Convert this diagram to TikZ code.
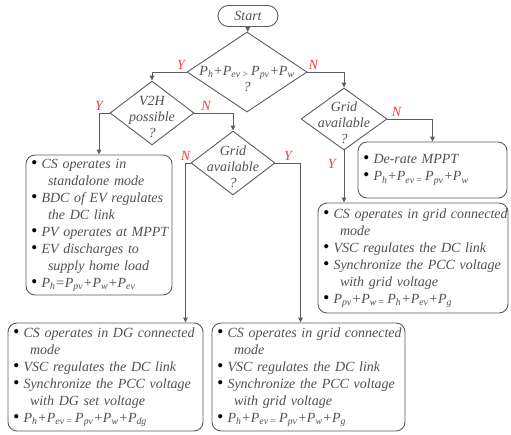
\documentclass[tikz,border=0pt]{standalone}
\usepackage{fontspec}
\setmainfont{Liberation Serif}
\usepackage{xcolor}
\usepackage{graphicx}
\usepackage{tikz}
\usetikzlibrary{arrows.meta,shapes.geometric,shapes.misc,calc}

\definecolor{ink}{HTML}{505050}
\definecolor{edge}{HTML}{5C5C5C}
\definecolor{ynred}{HTML}{FF3C3C}

\newcommand\Pw[1]{P\textsubscript{#1}}
\newcommand\itm[1]{\makebox[10.5pt][l]{\color{black}\scalebox{1.25}{\textbullet}}\mbox{#1}}
\newcommand\cnt[1]{\hspace*{17pt}\mbox{#1}}
\newcommand\dtxt[2][-8.5pt]{\smash{\makebox[0pt]{\raisebox{#1}{\begin{tabular}{@{}c@{}}#2\end{tabular}}}}}

\begin{document}
\begin{tikzpicture}[x=1pt,y=-1pt,font=\fontsize{14}{17}\selectfont\itshape,
  >={Triangle[length=5pt,width=4.5pt]},
  wire/.style={draw=edge,line width=0.9pt},
  term/.style={wire,rounded rectangle,minimum width=60pt,minimum height=21pt,inner sep=0pt,text=ink},
  dec/.style={wire,diamond,inner sep=0pt,text=ink,font=\fontsize{14}{16}\selectfont\itshape},
  act/.style={wire,rectangle,rounded corners=9pt,inner xsep=5pt,inner ysep=0pt,align=left,text=ink},
  yn/.style={text=ynred,inner sep=2pt}]
  \useasboundingbox (0,0) rectangle (511,434);
  \node[term] (start) at (248,16) {Start};
  \node[dec,minimum width=120pt,minimum height=80pt] (pbal) at (247,72)
    {\dtxt[-11.5pt]{\Pw{h}+\Pw{ev\,>}\,\Pw{pv}+\Pw{w}\\?}};
  \node[dec,minimum width=84pt,minimum height=64pt] (vth) at (152,113) {\dtxt{V2H\\possible\\?}};
  \node[dec,minimum width=84pt,minimum height=64pt] (gmid) at (233,163) {\dtxt{Grid\\available\\?}};
  \node[dec,minimum width=86pt,minimum height=62pt] (gright) at (344,119) {\dtxt{Grid\\available\\?}};
  % action boxes
  \node[act,text width=136pt,minimum height=140pt] (stand) at (99,225)
    {\itm{CS operates in}\\ \cnt{standalone mode}\\
     \itm{BDC of EV regulates}\\ \cnt{the DC link}\\
     \itm{PV operates at MPPT}\\
     \itm{EV discharges to}\\ \cnt{supply home load}\\
     \itm{\Pw{h}=\Pw{pv}+\Pw{w}+\Pw{ev}}};
  \node[act,text width=139pt,minimum height=56pt] (derate) at (432.5,170)
    {\itm{De-rate MPPT}\\
     \itm{\Pw{h}+\Pw{ev\,=}\,\Pw{pv}+\Pw{w}}};
  \node[act,text width=180pt,minimum height=110pt] (gridA) at (413,258)
    {\itm{CS operates in grid connected}\\ \cnt{mode}\\
     \itm{VSC regulates the DC link}\\
     \itm{Synchronize the PCC voltage}\\ \cnt{with grid voltage}\\
     \itm{\Pw{pv}+\Pw{w\,=}\,\Pw{h}+\Pw{ev}+\Pw{g}}};
  \node[act,text width=185pt,minimum height=108pt] (dgc) at (105.5,377)
    {\itm{CS operates in DG connected}\\ \cnt{mode}\\
     \itm{VSC regulates the DC link}\\
     \itm{Synchronize the PCC voltage}\\ \cnt{with DG set voltage}\\
     \itm{\Pw{h}+\Pw{ev\,=}\,\Pw{pv}+\Pw{w}+\Pw{dg}}};
  \node[act,text width=183pt,minimum height=108pt] (gridB) at (308.5,377)
    {\itm{CS operates in grid connected}\\ \cnt{mode}\\
     \itm{VSC regulates the DC link}\\
     \itm{Synchronize the PCC voltage}\\ \cnt{with grid voltage}\\
     \itm{\Pw{h}+\Pw{ev\,=}\,\Pw{pv}+\Pw{w}+\Pw{g}}};
  % connectors
  \draw[wire,->] (start) -- (pbal);
  \draw[wire,->] (pbal.west) -| node[yn,pos=0.08,above]{Y} (vth.north);
  \draw[wire,->] (pbal.east) -| node[yn,pos=0.08,above]{N} (gright.north);
  \draw[wire,->] (vth.west) -| node[yn,pos=0.5,above]{Y} (stand.north);
  \draw[wire,->] (vth.east) -| node[yn,pos=0.15,above]{N} (gmid.north);
  \draw[wire,->] (gmid.west) -| node[yn,pos=0.5,above]{N} ([xshift=80pt]dgc.north);
  \draw[wire,->] (gmid.east) -| node[yn,pos=0.25,above]{Y} ([xshift=-8pt]gridB.north);
  \draw[wire,->] (gright.east) -| node[yn,pos=0.1,above]{N} (derate.north);
  \draw[wire,->] (gright.south) -- node[yn,pos=0.25,left,xshift=-6pt]{Y} (gright.south |- gridA.north);
\end{tikzpicture}
\end{document}
